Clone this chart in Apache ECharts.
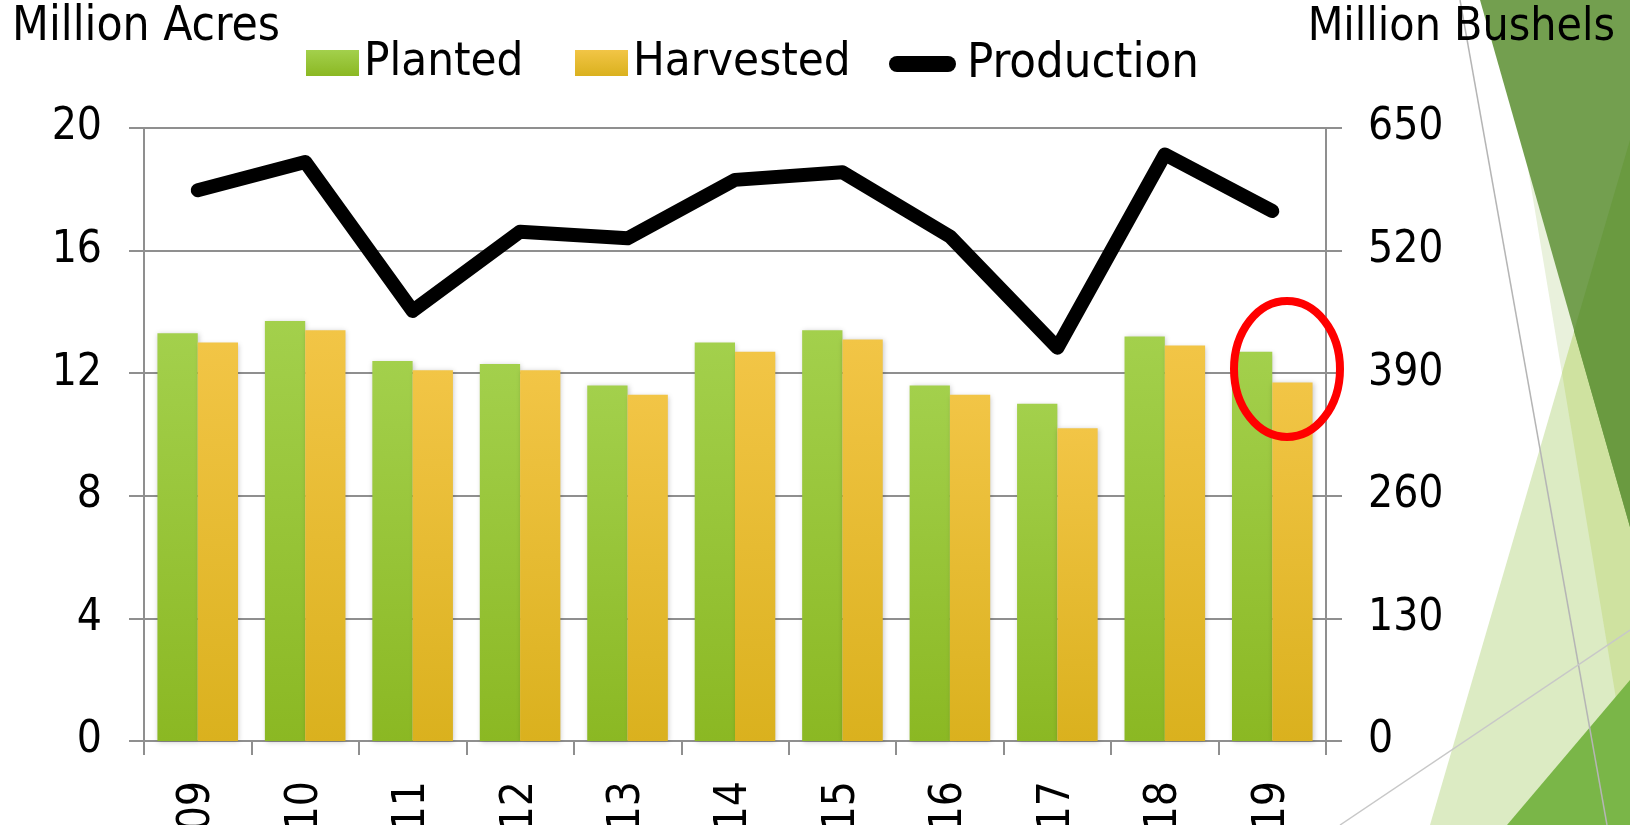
<!DOCTYPE html>
<html>
<head>
<meta charset="utf-8">
<script src="https://cdn.jsdelivr.net/npm/echarts@6/dist/echarts.min.js"></script>
<style>
html,body{margin:0;padding:0;background:#fff;}
#c{width:1630px;height:825px;}
</style>
</head>
<body>
<div id="c"></div>
<script>
const categories = ['09','10','11','12','13','14','15','16','17','18','19'];
const planted    = [13.3, 13.7, 12.4, 12.3, 11.6, 13.0, 13.4, 11.6, 11.0, 13.2, 12.7];
const harvested  = [13.0, 13.4, 12.1, 12.1, 11.3, 12.7, 13.1, 11.3, 10.2, 12.9, 11.7];
const production = [584, 614, 456, 540, 533, 595, 603, 535, 417, 622, 562];
const leftTicks  = {min: 0, max: 20, interval: 4};
const rightTicks = {min: 0, max: 650, interval: 130};

const FONT = "'DejaVu Sans Condensed', 'DejaVu Sans', sans-serif";
const GRAY = '#8f8f8f';

const chart = echarts.init(document.getElementById('c'), null, {renderer: 'canvas'});

function grad(top, bottom) {
  return new echarts.graphic.LinearGradient(0, 0, 0, 1, [
    {offset: 0, color: top}, {offset: 1, color: bottom}
  ]);
}
const plantedColor = grad('#a3d04c', '#8bb823');
const harvestedColor = grad('#f2c546', '#dab11e');

const legendBase = {
  top: 39.5, padding: 0, itemHeight: 26, itemWidth: 53, selectedMode: false,
  textStyle: {fontFamily: FONT, fontSize: 47, color: '#000', lineHeight: 47}
};

const option = {
  animation: false,
  backgroundColor: '#fff',
  grid: {left: 144, right: 304, top: 128, bottom: 84, containLabel: false, outerBoundsMode: 'none'},
  legend: [
    Object.assign({}, legendBase, {left: 306, data: [{name: 'Planted', icon: 'rect'}]}),
    Object.assign({}, legendBase, {left: 575, data: [{name: 'Harvested', icon: 'rect'}]}),
    Object.assign({}, legendBase, {left: 889, itemWidth: 67, itemHeight: 16,
      textStyle: {fontFamily: FONT, fontSize: 48.5, color: '#000', lineHeight: 47, padding: [0, 0, 0, 6]},
      data: [{name: 'Production', icon: 'path://M8,0H59A8,8,0,0,1,59,16H8A8,8,0,0,1,8,0Z'}]})
  ],
  xAxis: {
    type: 'category',
    data: categories,
    boundaryGap: true,
    axisLine: {lineStyle: {color: GRAY, width: 2}},
    axisTick: {show: true, length: 14, lineStyle: {color: GRAY, width: 2}},
    axisLabel: {rotate: 90, margin: 40, fontFamily: FONT, fontSize: 44, color: '#000'}
  },
  yAxis: [
    {
      type: 'value', min: leftTicks.min, max: leftTicks.max, interval: leftTicks.interval,
      position: 'left',
      axisLine: {show: true, lineStyle: {color: GRAY, width: 2}},
      axisTick: {show: true, length: 15, lineStyle: {color: GRAY, width: 2}},
      axisLabel: {margin: 42, fontFamily: FONT, fontSize: 44, color: '#000'},
      splitLine: {show: true, lineStyle: {color: GRAY, width: 2}}
    },
    {
      type: 'value', min: rightTicks.min, max: rightTicks.max, interval: rightTicks.interval,
      position: 'right',
      axisLine: {show: true, lineStyle: {color: GRAY, width: 2}},
      axisTick: {show: true, length: 16, lineStyle: {color: GRAY, width: 2}},
      axisLabel: {margin: 42, fontFamily: FONT, fontSize: 44, color: '#000'},
      splitLine: {show: false}
    }
  ],
  series: [
    {
      name: 'Planted', type: 'bar', data: planted, yAxisIndex: 0,
      barGap: '0%', barCategoryGap: '25%',
      itemStyle: {color: plantedColor, shadowBlur: 5, shadowColor: 'rgba(0,0,0,0.22)', shadowOffsetX: 1, shadowOffsetY: 1}
    },
    {
      name: 'Harvested', type: 'bar', data: harvested, yAxisIndex: 0,
      barGap: '0%', barCategoryGap: '25%',
      itemStyle: {color: harvestedColor, shadowBlur: 5, shadowColor: 'rgba(0,0,0,0.22)', shadowOffsetX: 1, shadowOffsetY: 1}
    },
    {
      name: 'Production', type: 'line', data: production, yAxisIndex: 1,
      symbol: 'none', z: 5,
      itemStyle: {color: '#000'},
      lineStyle: {color: '#000', width: 14, cap: 'round', join: 'round'}
    }
  ],
  graphic: [
    {type: 'polygon', z: -10, silent: true, shape: {points: [[1500,0],[1630,0],[1630,783]]}, style: {fill: '#e9f1dc'}},
    {type: 'polygon', z: -10, silent: true, shape: {points: [[1630,140],[1430,825],[1630,825]]}, style: {fill: '#dcebc3'}},
    {type: 'polygon', z: -10, silent: true, shape: {points: [[1630,140],[1562,373],[1630,783]]}, style: {fill: '#cfe2a0'}},
    {type: 'polygon', z: -10, silent: true, shape: {points: [[1480,0],[1630,0],[1630,527]]}, style: {fill: '#739f4f'}},
    {type: 'polygon', z: -10, silent: true, shape: {points: [[1630,140],[1574,331],[1630,527]]}, style: {fill: '#6a9a40'}},
    {type: 'polygon', z: -10, silent: true, shape: {points: [[1507,825],[1630,680],[1630,825]]}, style: {fill: '#7ab648'}},
    {type: 'line', z: -9, silent: true, shape: {x1: 1460, y1: 0, x2: 1607, y2: 825}, style: {stroke: '#b5b5b5', lineWidth: 1.5}},
    {type: 'line', z: -9, silent: true, shape: {x1: 1340, y1: 825, x2: 1630, y2: 630}, style: {stroke: '#c8c8c8', lineWidth: 1.5}},
    {type: 'text', z: 50, silent: true, style: {text: 'Million Acres', x: 12, y: 28, font: '47.5px ' + FONT, fill: '#000', textAlign: 'left', textVerticalAlign: 'middle'}},
    {type: 'text', z: 50, silent: true, style: {text: 'Million Bushels', x: 1615, y: 28, font: '46px ' + FONT, fill: '#000', textAlign: 'right', textVerticalAlign: 'middle'}},
    {type: 'ellipse', z: 100, silent: true, shape: {cx: 1287, cy: 369, rx: 53, ry: 68}, style: {fill: 'none', stroke: '#ff0000', lineWidth: 8}}
  ]
};

chart.setOption(option);
</script>
</body>
</html>
